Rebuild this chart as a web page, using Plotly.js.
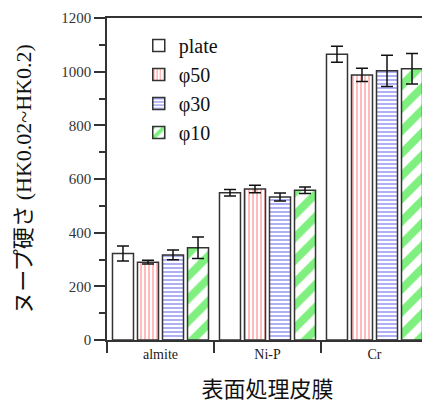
<!DOCTYPE html>
<html><head><meta charset="utf-8">
<script src="https://cdn.plot.ly/plotly-3.0.1.min.js"></script>
<style>html,body{margin:0;padding:0;overflow:hidden;background:#fff}#c{width:440px;height:403px}</style>
</head><body><div id="c"></div>
<script>
const categories = ['almite', 'Ni-P', 'Cr'];
const seriesNames = ['plate', 'φ50', 'φ30', 'φ10'];
const plateVals = [322, 549, 1065];
const plateErr = [28, 12, 30];
const phi50Vals = [290, 563, 988];
const phi50Err = [7, 14, 25];
const phi30Vals = [317, 533, 1003];
const phi30Err = [18, 15, 58];
const phi10Vals = [344, 558, 1011];
const phi10Err = [40, 12, 57];
const yTickVals = [0, 200, 400, 600, 800, 1000, 1200];

const SERIF = 'Liberation Serif';
const outline = {color: '#333', width: 1.5};
const err = (a) => ({type: 'data', array: a, visible: true, color: '#111', thickness: 1.5, width: 6});
const traces = [
  {name: seriesNames[0], x: categories, y: plateVals, error_y: err(plateErr), type: 'bar',
   marker: {color: '#ffffff', line: outline}},
  {name: seriesNames[1], x: categories, y: phi50Vals, error_y: err(phi50Err), type: 'bar',
   marker: {color: '#ffffff', line: outline, pattern: {shape: '|', fgcolor: '#ff8f8f', bgcolor: '#ffffff', size: 4, solidity: 0.3}}},
  {name: seriesNames[2], x: categories, y: phi30Vals, error_y: err(phi30Err), type: 'bar',
   marker: {color: '#ffffff', line: outline, pattern: {shape: '-', fgcolor: '#7a7aee', bgcolor: '#ffffff', size: 4, solidity: 0.3}}},
  {name: seriesNames[3], x: categories, y: phi10Vals, error_y: err(phi10Err), type: 'bar',
   marker: {color: '#ffffff', line: outline, pattern: {shape: '/', fgcolor: '#7ff07f', bgcolor: '#ffffff', size: 16, solidity: 0.5}}}
];
const layout = {
  width: 440, height: 403,
  font: {family: SERIF, color: '#222'},
  margin: {l: 107, r: 12, t: 18, b: 63},
  paper_bgcolor: '#fff', plot_bgcolor: '#fff',
  barmode: 'group', bargap: 0.065, bargroupgap: 0.16,
  showlegend: true,
  legend: {x: 0.099, y: 0.975, xanchor: 'left', yanchor: 'top', bgcolor: 'rgba(0,0,0,0)',
           font: {family: SERIF, size: 20, color: '#111'}},
  xaxis: {type: 'category', range: [-0.5, 2.5], showline: true, linecolor: '#333', linewidth: 1.5, mirror: true,
          ticks: 'outside', tickson: 'boundaries', ticklen: 11, tickwidth: 1.5, tickcolor: '#333',
          tickfont: {family: SERIF, size: 14, color: '#222'}, showgrid: false, zeroline: false,
          title: {text: '表面処理皮膜', font: {family: 'Noto Sans CJK JP', size: 22, color: '#111'}, standoff: 25}},
  yaxis: {range: [0, 1200], tickvals: yTickVals, showline: true, linecolor: '#333', linewidth: 1.5, mirror: true,
          ticks: 'outside', ticklen: 11, tickwidth: 1.5, tickcolor: '#333',
          minor: {dtick: 100, ticks: 'outside', ticklen: 6, tickwidth: 1.5, tickcolor: '#333', showgrid: false},
          tickfont: {family: SERIF, size: 15, color: '#333'}, showgrid: false, zeroline: false,
          title: {text: 'ヌープ硬さ <span style="font-family:Liberation Serif">(HK0.02~HK0.2)</span>', font: {family: 'Noto Sans CJK JP', size: 22, color: '#111'}, standoff: 24}}
};
Plotly.newPlot('c', traces, layout, {displayModeBar: false});
</script></body></html>
